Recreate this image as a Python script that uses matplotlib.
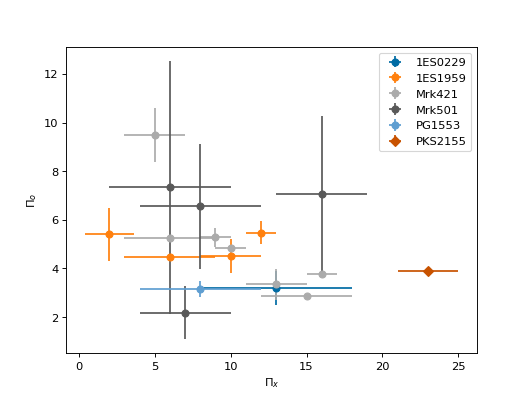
"""Optical vs X-ray polarisation degree per source."""

import numpy as np
import matplotlib
matplotlib.use("Agg")
import matplotlib.pyplot as plt

plt.style.use("tableau-colorblind10")

sources = ["1ES0229", "1ES1959", "Mrk421", "Mrk501", "PG1553", "PKS2155"]

pi_x = {
    "1ES0229": [13.0],
    "1ES1959": [2.0, 6.0, 10.0, 12.0],
    "Mrk421": [5.0, 6.0, 9.0, 10.0, 13.0, 15.0, 16.0],
    "Mrk501": [6.0, 8.0, 7.0, 16.0],
    "PG1553": [8.0],
    "PKS2155": [23.0],
}
pi_x_err = {
    "1ES0229": [5.0],
    "1ES1959": [1.6, 3.0, 2.0, 1.0],
    "Mrk421": [2.0, 3.0, 1.0, 1.0, 2.0, 3.0, 1.0],
    "Mrk501": [4.0, 4.0, 3.0, 3.0],
    "PG1553": [4.0],
    "PKS2155": [2.0],
}
pi_o = {
    "1ES0229": [3.2],
    "1ES1959": [5.4, 4.48, 4.52, 5.47],
    "Mrk421": [9.48, 5.26, 5.28, 4.84, 3.34, 2.88, 3.76],
    "Mrk501": [7.33, 6.55, 2.18, 7.06],
    "PG1553": [3.17],
    "PKS2155": [3.89],
}
pi_o_err = {
    "1ES0229": [0.7],
    "1ES1959": [1.1, 0.0, 0.7, 0.47],
    "Mrk421": [1.1, 0.0, 0.38, 0.0, 0.65, 0.0, 0.0],
    "Mrk501": [5.2, 2.57, 1.1, 3.2],
    "PG1553": [0.33],
    "PKS2155": [0.1],
}

fig, ax = plt.subplots(figsize=(6.4, 4.8), dpi=82.82)
for src in sources:
    fmt = "D" if src == "PKS2155" else "o"
    ax.errorbar(pi_x[src], pi_o[src], xerr=pi_x_err[src], yerr=pi_o_err[src],
                fmt=fmt, label=src)
ax.set_xlabel(r"$\Pi_x$")
ax.set_ylabel(r"$\Pi_o$")
ax.legend(loc="upper right")
fig.savefig("out.png")
